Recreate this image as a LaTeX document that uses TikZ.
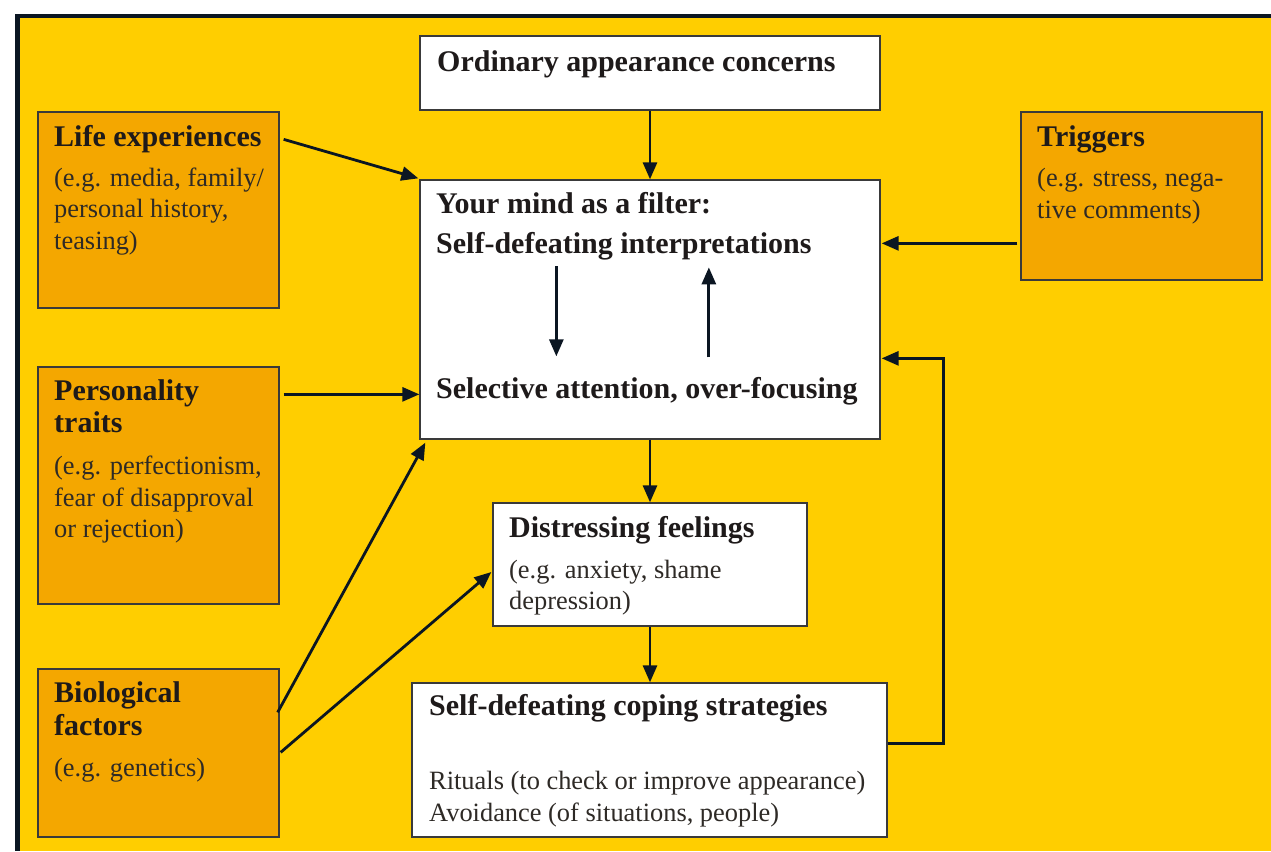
\documentclass[tikz,border=0pt]{standalone}
\usepackage{fontspec}
\setmainfont{Liberation Serif}
\usetikzlibrary{arrows.meta,calc}
\definecolor{bgyellow}{HTML}{FFCE00}
\definecolor{boxorange}{HTML}{F4A700}
\definecolor{navy}{HTML}{0B1622}
\definecolor{edgegray}{HTML}{3A3A3A}
\definecolor{txtdark}{HTML}{1E1A1A}
\definecolor{txtreg}{HTML}{2E2A26}
\begin{document}
\begin{tikzpicture}[x=1pt,y=-1pt,
  wbox/.style={draw=edgegray,line width=1.3pt,fill=white,rectangle,inner sep=0pt},
  obox/.style={draw=edgegray,line width=1.3pt,fill=boxorange,rectangle,inner sep=0pt},
  head/.style={anchor=base west,inner sep=0pt,text=txtdark,font=\fontsize{30}{36}\selectfont\bfseries},
  body/.style={anchor=base west,inner sep=0pt,text=txtreg,font=\fontsize{26.4}{31}\selectfont},
  arr/.style={draw=navy,line width=2.8pt,-{Triangle[length=17pt,width=14pt]}},
]
\useasboundingbox (0,0) rectangle (1271,851);
\fill[white] (0,0) rectangle (1271,851);
\fill[navy] (15,14) rectangle (1271,851);
\fill[bgyellow] (20,18) rectangle (1271,851);

% boxes
\node[wbox,minimum width=460,minimum height=74] (ord) at (650,73) {};
\node[wbox,minimum width=460,minimum height=259] (mind) at (650,309.5) {};
\node[obox,minimum width=241,minimum height=196] (life) at (158.5,210) {};
\node[obox,minimum width=241,minimum height=237] (pers) at (158.5,485.5) {};
\node[obox,minimum width=241,minimum height=168] (bio) at (158.5,753) {};
\node[obox,minimum width=241,minimum height=168] (trig) at (1141.5,196) {};
\node[wbox,minimum width=314,minimum height=123] (dist) at (650,564.5) {};
\node[wbox,minimum width=475,minimum height=154] (cope) at (649.5,760) {};

% texts
\node[head] (tord) at (437,71) {Ordinary appearance concerns};
\node[head] (tmind1) at (436,213) {Your mind as a filter:};
\node[head] (tmind2) at (436,253) {Self-defeating interpretations};
\node[head] (tmind3) at (436,398) {Selective attention, over-focusing};

\node[head] (tlife) at (54,146) {Life experiences};
\node[body] (tlife1) at (54,186) {(e.g. media, family/};
\node[body] (tlife2) at (54,217.5) {personal history,};
\node[body] (tlife3) at (54,249) {teasing)};

\node[head] (tpers1) at (54,400) {Personality};
\node[head] (tpers2) at (54,432.5) {traits};
\node[body] (tpers3) at (54,474) {(e.g. perfectionism,};
\node[body] (tpers4) at (54,506) {fear of disapproval};
\node[body] (tpers5) at (54,537.5) {or rejection)};

\node[head] (tbio1) at (54,702) {Biological};
\node[head] (tbio2) at (54,735) {factors};
\node[body] (tbio3) at (54,776) {(e.g. genetics)};

\node[head] (ttrig) at (1037,146) {Triggers};
\node[body] (ttrig1) at (1037,186) {(e.g. stress, nega-};
\node[body] (ttrig2) at (1037,218) {tive comments)};

\node[head] (tdist) at (509,537) {Distressing feelings};
\node[body] (tdist1) at (509,578) {(e.g. anxiety, shame};
\node[body] (tdist2) at (509,609) {depression)};

\node[head] (tcope) at (429,715) {Self-defeating coping strategies};
\node[body] (tcope1) at (429,789) {Rituals (to check or improve appearance)};
\node[body] (tcope2) at (429,821) {Avoidance (of situations, people)};

% connectors
\draw[arr] (ord.south) -- (mind.north);
\draw[arr] ($(life.north east)+(4,28)$) -- ($(mind.north west)+(-1,-1)$);
\draw[arr] ($(pers.north east)+(4,28)$) -- ($(mind.north west)+(0,215)$);
\draw[arr] ($(bio.north east)+(-2,44)$) -- ($(mind.south west)+(6,3)$);
\draw[arr] ($(bio.north east)+(1,84)$) -- ($(dist.west)+(-1,7.5)$);
\draw[arr] ($(trig.north west)+(-3,132)$) -- ($(mind.north east)+(1,64)$);
\draw[arr] ($(cope.north east)+(0,61)$) -| ($(mind.north east)+(63,179)$) -- ($(mind.north east)+(1,179)$);
\draw[arr] (mind.south) -- (dist.north);
\draw[arr] (dist.south) -- (dist.south |- cope.north);
\draw[arr] ($(mind.north west)+(137,87)$) -- ($(mind.north west)+(137,177)$);
\draw[arr] ($(mind.north west)+(289.5,178)$) -- ($(mind.north west)+(289.5,88)$);
\end{tikzpicture}
\end{document}
